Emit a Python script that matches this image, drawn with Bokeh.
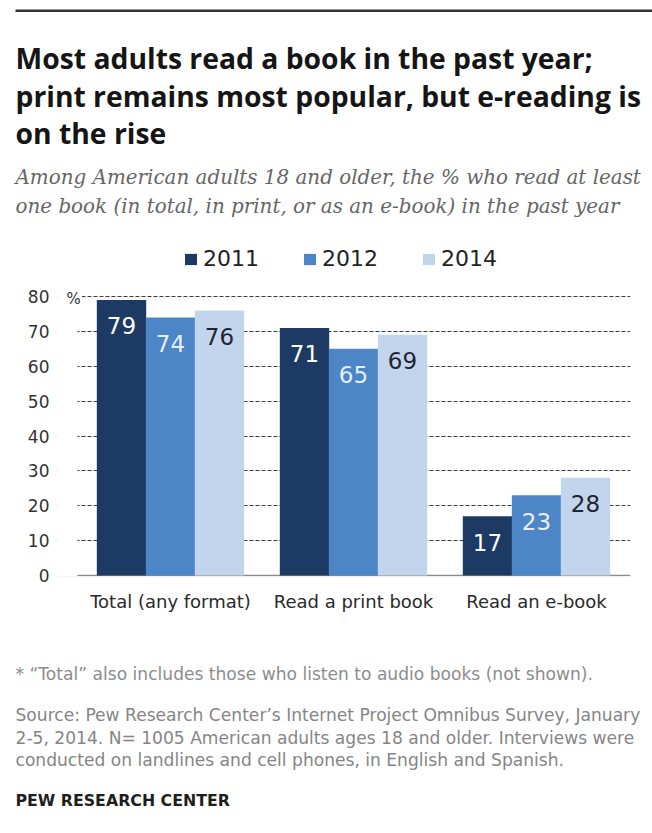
from bokeh.plotting import figure
from bokeh.layouts import column
from bokeh.models import (ColumnDataSource, Range1d, FixedTicker, Label, Grid,
                          Legend, LegendItem, BoxAnnotation)
from bokeh.transform import dodge
from bokeh.core.properties import value
from bokeh.embed import file_html
from bokeh.resources import INLINE

# ---------------- data ----------------
categories = ["Total (any format)", "Read a print book", "Read an e-book"]
years = ["2011", "2012", "2014"]
v2011 = [79, 71, 17]
v2012 = [74, 65, 23]
v2014 = [76, 69, 28]
yticks = [0, 10, 20, 30, 40, 50, 60, 70, 80]

title_lines = ["Most adults read a book in the past year;",
               "print remains most popular, but e-reading is",
               "on the rise"]
subtitle_lines = ["Among American adults 18 and older, the % who read at least",
                  "one book (in total, in print, or as an e-book) in the past year"]
footnote = "* \u201cTotal\u201d also includes those who listen to audio books (not shown)."
source_lines = ["Source: Pew Research Center\u2019s Internet Project Omnibus Survey, January",
                "2-5, 2014. N= 1005 American adults ages 18 and older. Interviews were",
                "conducted on landlines and cell phones, in English and Spanish."]
credit = "PEW RESEARCH CENTER"

# ---------------- style ----------------
colors = ["#1c3a64", "#4c86c6", "#c3d5ec"]
value_colors = ["#ffffff", "#e6eff9", "#1f2633"]
SANS = "DejaVu Sans"
W = 652
H_HEAD, H_CHART, H_FOOT = 240, 385, 208


def no_align(f):
    try:
        f.frame_align = False
    except Exception:
        pass


def text_fig(h, y_top):
    f = figure(width=W, height=h, x_range=Range1d(0, W), y_range=Range1d(y_top + h, y_top),
               output_backend="svg", toolbar_location=None,
               x_axis_location=None, y_axis_location=None,
               min_border_left=0, min_border_right=0, min_border_top=0, min_border_bottom=0)
    f.grid.visible = False
    f.outline_line_color = None
    f.background_fill_color = "white"
    f.border_fill_color = "white"
    no_align(f)
    return f


def add_text(f, txt, x, y, size, color, font=SANS, style="normal"):
    f.add_layout(Label(x=x, y=y, text=txt, text_font=font, text_font_size=size,
                       text_color=color, text_font_style=style, text_baseline="alphabetic"))


# ---------------- header ----------------
head = text_fig(H_HEAD, 0)
head.add_layout(BoxAnnotation(left=15, right=W, top=9, bottom=11.5,
                              fill_color="#333333", fill_alpha=1, line_color=None))
for line, yb in zip(title_lines, [57, 95, 132]):
    add_text(head, line, 15, yb, "28.3px", "#151515", font="Open Sans", style="bold")
for line, yb in zip(subtitle_lines, [177, 206]):
    add_text(head, line, 15, yb, "19.9px", "#666666", font="DejaVu Serif", style="italic")

# ---------------- chart ----------------
FRAME_L, FRAME_R = 57, 630
PX_PER_CAT = 183.0
X0 = 170.0  # pixel centre of first category
PX_PER_UNIT = 3.4875
FRAME_TOP, FRAME_BOT = 240, 576
ZERO_PX = 575

x_range = Range1d((FRAME_L - X0) / PX_PER_CAT, (FRAME_R - X0) / PX_PER_CAT)
y_range = Range1d((ZERO_PX - FRAME_BOT) / PX_PER_UNIT, (ZERO_PX - FRAME_TOP) / PX_PER_UNIT)

src = ColumnDataSource(dict(
    idx=list(range(len(categories))),
    v2011=v2011, v2012=v2012, v2014=v2014,
    t2011=[str(v) for v in v2011],
    t2012=[str(v) for v in v2012],
    t2014=[str(v) for v in v2014],
))

p = figure(x_range=x_range, y_range=y_range, width=W, height=H_CHART,
           output_backend="svg", toolbar_location=None,
           min_border_left=FRAME_L, min_border_right=W - FRAME_R,
           min_border_top=0, min_border_bottom=H_CHART - (FRAME_BOT - FRAME_TOP))
p.outline_line_color = None
p.background_fill_color = "white"
p.border_fill_color = "white"
no_align(p)

# grids: dashed for 10..80, solid baseline at 0
p.xgrid.visible = False
p.ygrid.ticker = FixedTicker(ticks=yticks[1:])
p.ygrid.grid_line_color = "#3a3a3a"
p.ygrid.grid_line_dash = "4 2"
p.ygrid.grid_line_width = 1
base = Grid(dimension=1, ticker=FixedTicker(ticks=yticks[:1]),
            grid_line_color="#8a8a8a", grid_line_width=1.5)
p.add_layout(base)

# white mask so grid lines begin at x=77 like the original
p.add_layout(BoxAnnotation(left=0, right=77 - FRAME_L, bottom=0, top=FRAME_BOT - 285,
                           left_units="screen", right_units="screen",
                           bottom_units="screen", top_units="screen",
                           fill_color="white", fill_alpha=1, line_color=None,
                           level="underlay"))

bw = 49.0 / PX_PER_CAT
offsets = [-bw, 0.0, bw]
renderers = []
for yr, col, off, vcol in zip(years, colors, offsets, value_colors):
    r = p.vbar(x=dodge("idx", off), top="v" + yr, width=bw + 0.002, bottom=0,
               source=src, fill_color=col, line_color=None)
    renderers.append(r)
    p.text(x=dodge("idx", off), y="v" + yr, text="t" + yr, source=src,
           y_offset=26, text_align="center", text_baseline="middle",
           text_font=value(SANS), text_font_size="23px", text_color=vcol)

p.yaxis.ticker = FixedTicker(ticks=yticks)
p.yaxis.axis_line_color = None
p.yaxis.major_tick_line_color = None
p.yaxis.minor_tick_line_color = None
p.yaxis.major_label_standoff = 2
p.yaxis.major_label_text_font = SANS
p.yaxis.major_label_text_font_size = "17px"
p.yaxis.major_label_text_color = "#333333"

p.xaxis.ticker = FixedTicker(ticks=list(range(len(categories))))
p.xaxis.major_label_overrides = {i: c for i, c in enumerate(categories)}
p.xaxis.axis_line_color = None
p.xaxis.major_tick_line_color = None
p.xaxis.minor_tick_line_color = None
p.xaxis.major_label_standoff = 8
p.xaxis.major_label_text_font = SANS
p.xaxis.major_label_text_font_size = "18px"
p.xaxis.major_label_text_color = "#2a2a2a"

# "%" sign next to the 80 tick
p.add_layout(Label(x=65 - FRAME_L, y=FRAME_BOT - 298, x_units="screen", y_units="screen",
                   text="%", text_font=SANS, text_font_size="15px", text_color="#333333",
                   text_baseline="middle", background_fill_color="white", padding=1))

legend = Legend(items=[LegendItem(label=yr, renderers=[r]) for yr, r in zip(years, renderers)],
                orientation="horizontal", location=(183 - FRAME_L, FRAME_BOT - 271),
                glyph_width=15, glyph_height=14, label_standoff=5, spacing=43,
                padding=0, margin=0, border_line_color=None, background_fill_alpha=0,
                label_text_font=SANS, label_text_font_size="22px", label_text_color="#222222")
p.add_layout(legend, "center")

# ---------------- footer ----------------
foot = text_fig(H_FOOT, H_HEAD + H_CHART)
add_text(foot, footnote, 15, 673, "17.1px", "#8c8c8c")
for line, yb in zip(source_lines, [714, 737, 759]):
    add_text(foot, line, 15, yb, "17.1px", "#858585")
add_text(foot, credit, 15, 800, "15.8px", "#1e1e1e", style="bold")

layout = column(head, p, foot, spacing=0)
open("out.html", "w").write(file_html(layout, INLINE))
